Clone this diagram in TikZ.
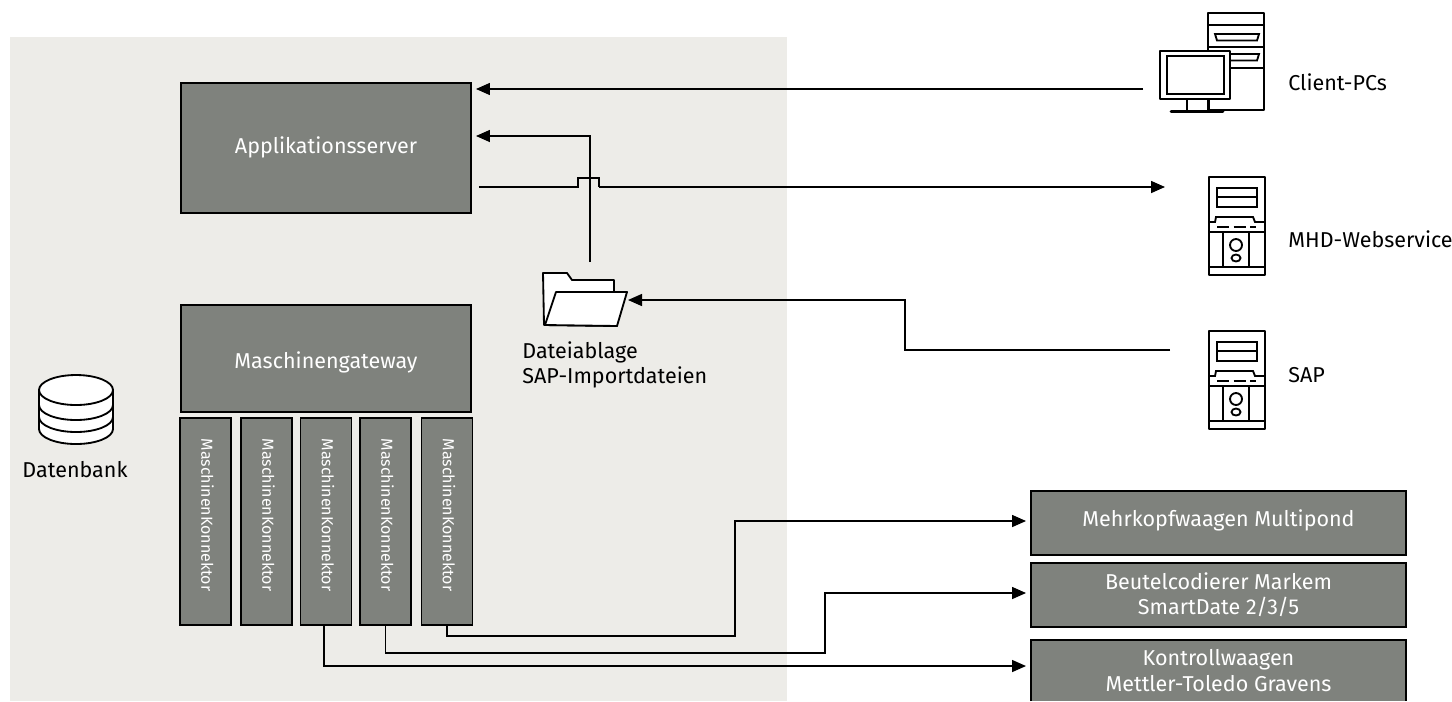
\documentclass[tikz,border=0pt]{standalone}
\usepackage{fontspec}
\setmainfont{Fira Sans}
\usepackage{xcolor}
\usetikzlibrary{arrows.meta, positioning, calc}
\definecolor{panelgray}{HTML}{EDECE8}
\definecolor{boxgray}{HTML}{7F827D}
\tikzset{
  box/.style={fill=boxgray, text=white, draw=black, line width=1pt, align=center, inner sep=0pt, outer sep=0pt, font=\fontsize{12.25pt}{14.4pt}\selectfont},
  caption/.style={text=black, align=left, inner sep=0pt, anchor=west, font=\fontsize{12.25pt}{14.4pt}\selectfont},
  link/.style={draw=black, line width=0.85pt},
  linkto/.style={link, -{Triangle[length=0.28cm,width=0.24cm]}, shorten >=0.1cm},
  icon/.style={draw=black, line width=1.05pt, fill=white, line join=round},
  iconline/.style={draw=black, line width=1.05pt}
}
\begin{document}
\begin{tikzpicture}[x=0.02cm, y=-0.02cm]
  \useasboundingbox (0,0) rectangle (1452,701);
  \fill[panelgray] (10,37) rectangle (787,701);

  \node[box, minimum width=5.8cm, minimum height=2.6cm] (appserver) at (326,148) {\raisebox{0.12cm}{Applikationsserver}};
  \node[box, minimum width=5.8cm, minimum height=2.14cm] (gateway) at (326,358.5) {\raisebox{-0.16cm}[\height]{Maschinengateway}};
  \foreach \i/\x in {1/205.5, 2/266.5, 3/326, 4/385.5, 5/447} {
    \node[box, minimum width=1.02cm, minimum height=4.14cm] (konn\i) at (\x,521.5) {};
    \node[rotate=-90, text=white, inner sep=0pt, font=\fontsize{9.1pt}{12pt}\selectfont] (konnlabel\i) at (\x+2,515) {MaschinenKonnektor};
  }
  \node[box, minimum width=7.5cm, minimum height=1.28cm] (multipond) at (1218.5,523) {\raisebox{0.2cm}{Mehrkopfwaagen Multipond}};
  \node[box, minimum width=7.5cm, minimum height=1.28cm] (markem) at (1218.5,595) {Beutelcodierer Markem\\SmartDate 2/3/5};
  \node[box, draw=none, minimum width=7.5cm, minimum height=1.22cm] (gravens) at (1218.5,670.5) {Kontrollwaagen\\Mettler-Toledo Gravens};
  \draw[iconline] (gravens.south west) |- (gravens.north east) -- (gravens.south east);

  \draw[icon] (1208,13) rectangle (1264,110);
  \draw[iconline] (1208,25) -- (1264,25) (1208,47) -- (1264,47) (1208,68) -- (1264,68);
  \foreach \y in {34, 54} {
    \draw[iconline] (1215,\y) -- (1259,\y) -- (1257,\y+6.5) -- (1217,\y+6.5) -- cycle;
  }
  \draw[iconline] (1187,99) -- (1187,111) (1209,99) -- (1209,111);
  \draw[draw=black, line width=1.6pt, line cap=round] (1171,111.5) -- (1223,111.5);
  \draw[icon] (1160,51) rectangle (1230,99);
  \draw[iconline] (1167,56) rectangle (1224,94);

  \foreach \y in {177, 331} {
    \begin{scope}[yshift=-\y*0.02cm]
      \draw[icon] (1209,0) rectangle (1265,98);
      \draw[iconline] (1217,11) rectangle (1257,30) (1217,20) -- (1257,20);
      \draw[iconline] (1209,45) -- (1215,45) -- (1216,40) -- (1253,40) -- (1255,45) -- (1265,45);
      \draw[iconline, dashed, dash pattern=on 7pt off 2.5pt] (1217,50) -- (1256,50);
      \draw[iconline] (1209,55) -- (1265,55) (1209,90) -- (1265,90);
      \draw[iconline] (1223,55) -- (1223,90) (1249,55) -- (1249,90);
      \draw[iconline] (1236,68) circle[radius=6] (1236,81) circle[x radius=4.5, y radius=3.5];
    \end{scope}
  }

  \draw[icon] (544,325) -- (543,273) -- (567,273) -- (572,280) -- (614,280) -- (614,295) -- (617,326) -- cycle;
  \draw[icon] (545,325) -- (556,292) -- (627,292) -- (617,326) -- cycle;

  \draw[icon] (39,390) -- (39,429) arc[start angle=180, end angle=0, x radius=37, y radius=15] -- (113,390);
  \draw[iconline, line width=1.5pt] (39,390) -- (39,429) (113,390) -- (113,429);
  \foreach \y in {405, 417} {
    \draw[iconline] (39,\y) arc[start angle=180, end angle=0, x radius=37, y radius=15];
  }
  \draw[icon] (76,390) circle[x radius=37, y radius=15];

  \node[caption, anchor=center] (dbtext) at (75,470) {Datenbank};
  \node[caption, anchor=north west] (foldertext) at (522,341) {Dateiablage\\SAP-Importdateien};
  \node[caption] (clienttext) at (1288,82) {Client-PCs};
  \node[caption] (mhdtext) at (1288,239) {MHD-Webservice};
  \node[caption] (saptext) at (1288,375) {SAP};

  \coordinate (clientport) at (1143,89);
  \coordinate (folderup) at (590,262);
  \coordinate (folderbend) at (590,136);
  \coordinate (mhdport) at (1170,187);
  \coordinate (jumpleft) at (578,187);
  \coordinate (jumpright) at (599,187);
  \coordinate (sapport) at (1170,350);
  \coordinate (sapbend) at (905,350);
  \coordinate (folderport) at (623,300);
  \coordinate (bendfive) at (735,636);
  \coordinate (bendfour) at (825,653);
  \coordinate (bendthree) at (1031,666);

  \draw[linkto] (clientport) -- (appserver.east |- clientport);
  \draw[linkto] (folderup) -- (folderbend) -- (appserver.east |- folderbend);
  \draw[link, shorten <=0.16cm] (appserver.east |- jumpleft) -- (jumpleft) -- ++(0,-9) -| (jumpright);
  \draw[linkto] (jumpright) -- (mhdport);
  \draw[linkto] (sapport) -- (sapbend) |- (folderport);
  \draw[linkto] (konn5.south) |- (bendfive) |- ([yshift=0.04cm]multipond.west);
  \draw[linkto] (konn4.south) |- (bendfour) |- ([yshift=0.04cm]markem.west);
  \draw[linkto] ([xshift=-0.04cm]konn3.south) |- (bendthree);
\end{tikzpicture}
\end{document}
